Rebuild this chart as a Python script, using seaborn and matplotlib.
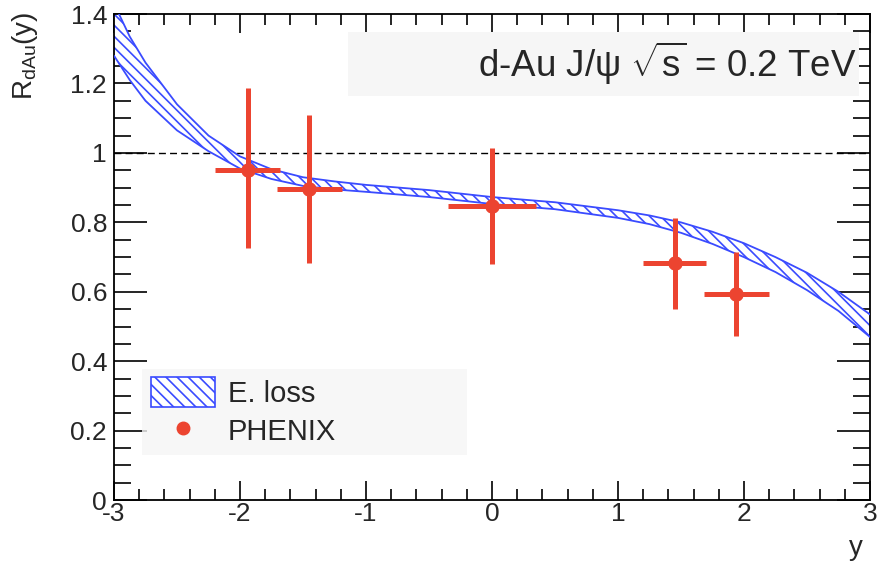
import matplotlib
matplotlib.use("Agg")
import matplotlib.pyplot as plt
from matplotlib.patches import Patch, Rectangle
from matplotlib.lines import Line2D
from matplotlib.ticker import MultipleLocator
import numpy as np
import pandas as pd
import seaborn as sns

# PHENIX J/psi R_dAu data points
phenix_y = [-1.94, -1.45, 0.0, 1.45, 1.94]
phenix_r = [0.951, 0.896, 0.847, 0.683, 0.594]
phenix_err_lo = [0.225, 0.213, 0.167, 0.133, 0.121]
phenix_err_hi = [0.236, 0.214, 0.167, 0.130, 0.121]
phenix_xerr = [0.26, 0.26, 0.35, 0.25, 0.26]

# Energy-loss calculation band (upper / lower edges)
band_y = [-3.0, -2.875, -2.75, -2.5, -2.25, -2.0, -1.75, -1.5, -1.25, -1.0,
          -0.5, 0.0, 0.5, 1.0, 1.25, 1.5, 1.75, 2.0, 2.25, 2.5, 2.75, 3.0]
band_hi = [1.43, 1.335, 1.26, 1.14, 1.05, 0.99, 0.953, 0.93, 0.918, 0.908,
           0.893, 0.873, 0.858, 0.835, 0.82, 0.80, 0.773, 0.74, 0.70, 0.655, 0.60, 0.535]
band_lo = [1.28, 1.21, 1.15, 1.065, 1.005, 0.955, 0.925, 0.905, 0.895, 0.888,
           0.873, 0.853, 0.838, 0.813, 0.795, 0.77, 0.738, 0.70, 0.657, 0.605, 0.545, 0.47]

x_ticks = [-3, -2, -1, 0, 1, 2, 3]
y_ticks = [0, 0.2, 0.4, 0.6, 0.8, 1.0, 1.2, 1.4]

sns.set_theme(style="ticks")
plt.rcParams["font.family"] = ["Liberation Sans", "DejaVu Sans"]
plt.rcParams["mathtext.fontset"] = "custom"
plt.rcParams["mathtext.rm"] = "Liberation Sans"
plt.rcParams["mathtext.it"] = "Liberation Sans"
plt.rcParams["hatch.linewidth"] = 1.2

BLUE = "#3a4bff"
RED = "#ec4430"

fig = plt.figure(figsize=(8.77, 5.62), dpi=100)
ax = fig.add_axes([0.130, 0.110, 0.862, 0.865])

band = pd.DataFrame({"y": band_y, "hi": band_hi, "lo": band_lo})
ax.fill_between(band["y"], band["lo"], band["hi"], facecolor="white",
                edgecolor=BLUE, hatch="\\\\\\", linewidth=0, zorder=2)
sns.lineplot(data=band, x="y", y="hi", color=BLUE, lw=1.3, ax=ax, zorder=3)
sns.lineplot(data=band, x="y", y="lo", color=BLUE, lw=1.3, ax=ax, zorder=3)

ax.axhline(1.0, color="black", lw=1.0, ls=(0, (5, 3)), zorder=1)

pts = pd.DataFrame({"y": phenix_y, "r": phenix_r})
ax.errorbar(phenix_y, phenix_r, yerr=[phenix_err_lo, phenix_err_hi],
            xerr=phenix_xerr, fmt="none", ecolor=RED, elinewidth=3.6,
            capsize=0, zorder=4)
sns.scatterplot(data=pts, x="y", y="r", color=RED, s=110, linewidth=0,
                ax=ax, zorder=5, legend=False)

ax.set_xlim(-3, 3)
ax.set_ylim(0, 1.4)
ax.set_xticks(x_ticks)
ax.set_xticklabels([str(v) for v in x_ticks])
ax.set_yticks(y_ticks)
ax.set_yticklabels(["0", "0.2", "0.4", "0.6", "0.8", "1", "1.2", "1.4"])
ax.xaxis.set_minor_locator(MultipleLocator(0.2))
ax.yaxis.set_minor_locator(MultipleLocator(0.05))
ax.tick_params(axis="x", which="major", direction="in", length=14, width=1.2,
               top=True, labelsize=19, pad=1, color="black")
ax.tick_params(axis="x", which="minor", direction="in", length=8, width=1.2,
               top=True, color="black")
ax.tick_params(axis="y", which="major", direction="in", length=24, width=1.2,
               right=True, labelsize=19, pad=5, color="black")
ax.tick_params(axis="y", which="minor", direction="in", length=12, width=1.2,
               right=True, color="black")
for s in ax.spines.values():
    s.set_linewidth(1.3)
    s.set_color("black")

ax.set_xlabel("y", fontsize=20)
ax.xaxis.set_label_coords(0.982, -0.072)
ax.set_ylabel(r"R$_{\mathrm{dAu}}$(y)", fontsize=20)
ax.yaxis.set_label_coords(-0.098, 0.915)

# Title box in the upper right
ax.add_patch(Rectangle((0.309, 0.831), 0.677, 0.132, transform=ax.transAxes,
                       facecolor="#f6f6f6", edgecolor="none", zorder=1))
ax.text(0.982, 0.898, r"d-Au J/$\psi$ $\sqrt{\mathrm{s}}$ = 0.2 TeV",
        transform=ax.transAxes, ha="right", va="center", fontsize=26.5, zorder=6)

handles = [
    Patch(facecolor="white", edgecolor=BLUE, hatch="\\\\\\", linewidth=0),
    Line2D([], [], marker="o", ls="none", color=RED, markersize=9),
]
leg = ax.legend(handles, ["E. loss", "PHENIX"], loc="lower left",
                bbox_to_anchor=(0.037, 0.093, 0.43, 0.18), mode="expand",
                fontsize=21, frameon=True, handlelength=2.2, handleheight=1.2,
                borderpad=0.3, labelspacing=0.25, handletextpad=0.45,
                borderaxespad=0)
leg.get_frame().set_facecolor("#f6f6f6")
leg.get_frame().set_edgecolor("none")
leg.get_frame().set_boxstyle("square", pad=0)
# outline around the hatched swatch
leg.legend_handles[0].set_linewidth(1.2)
leg.legend_handles[0].set_edgecolor(BLUE)

fig.savefig("out.png", dpi=100)
